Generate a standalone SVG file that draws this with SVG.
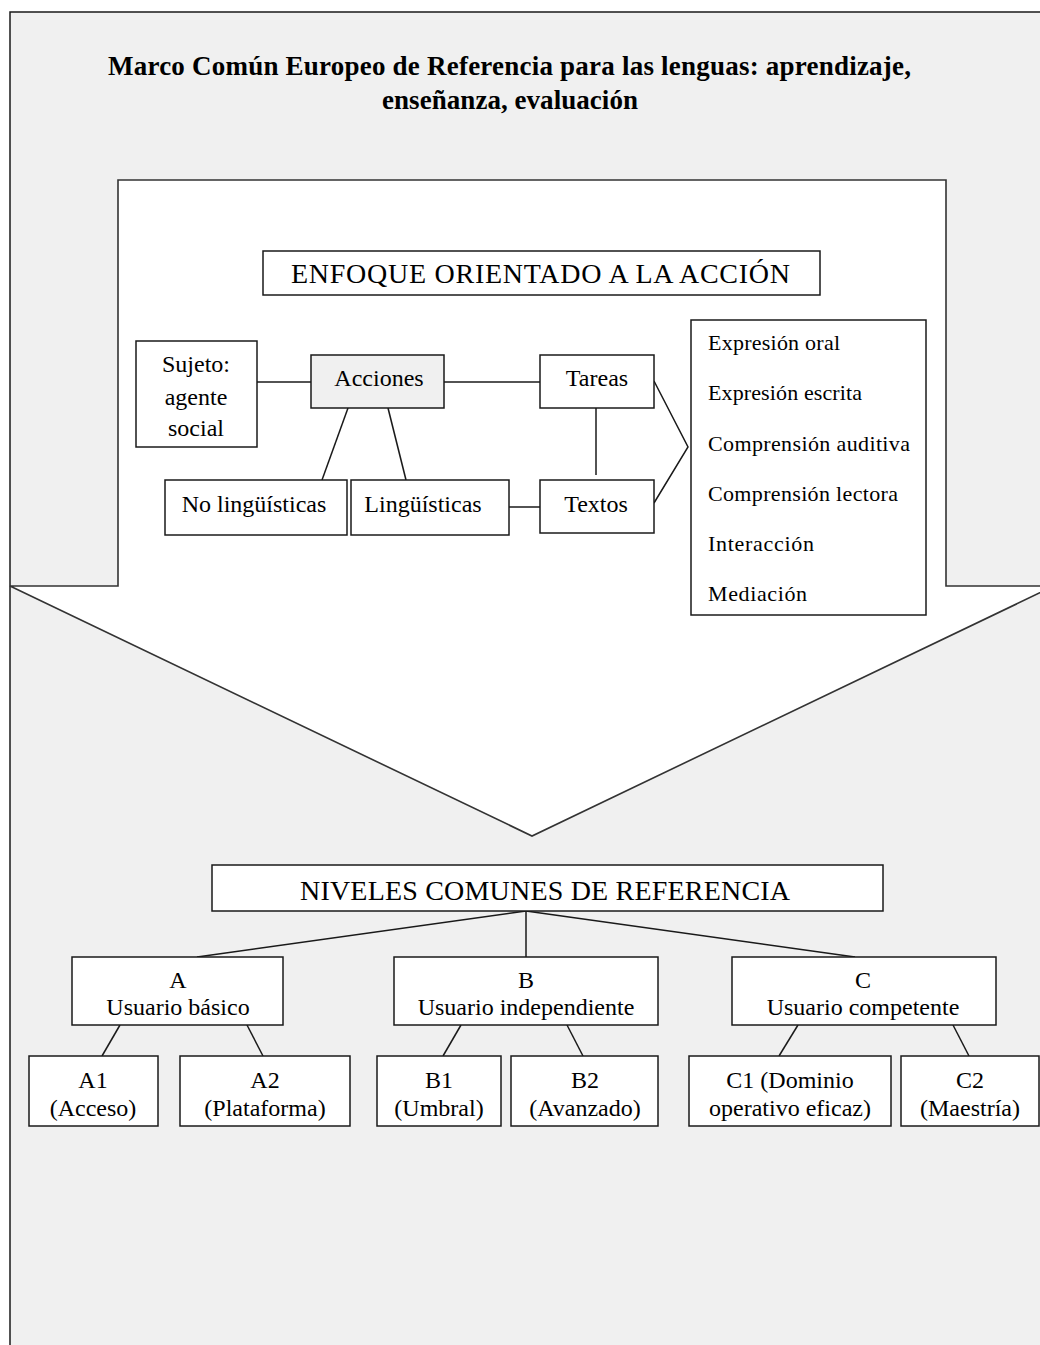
<svg xmlns="http://www.w3.org/2000/svg" width="1040" height="1345" viewBox="0 0 1040 1345">
<style>
.bx{fill:#fff;stroke:#1a1a1a;stroke-width:1.5}
.gr{fill:#f0f0f0;stroke:#1a1a1a;stroke-width:1.5}
.ln{stroke:#1a1a1a;stroke-width:1.5;fill:none}
.t{font-family:"Liberation Serif","Times New Roman",serif;font-size:24px;fill:#000;text-anchor:middle}
.h{font-family:"Liberation Serif","Times New Roman",serif;font-size:28px;fill:#000}
.ti{font-family:"Liberation Serif","Times New Roman",serif;font-size:27px;font-weight:bold;fill:#000}
.li{font-family:"Liberation Serif","Times New Roman",serif;font-size:22px;fill:#000}
</style>
<rect x="0" y="0" width="1040" height="1345" fill="#fff"/>
<rect x="10" y="12" width="1032" height="1335" fill="#f0f0f0"/>
<path class="ln" d="M10,1345 V12 H1040"/>
<g id="title">
<text class="ti" x="108" y="75" textLength="803">Marco Común Europeo de Referencia para las lenguas: aprendizaje,</text>
<text class="ti" x="382" y="109" textLength="256">enseñanza, evaluación</text>
</g>
<g id="big-arrow">
<polygon points="118,180 946,180 946,586 1054,586 532,836 10,586 118,586" fill="#fff" stroke="#333" stroke-width="1.6"/>
</g>
<g id="connectors">
<line class="ln" x1="257" y1="382" x2="311" y2="382"/>
<line class="ln" x1="444" y1="382" x2="540" y2="382"/>
<line class="ln" x1="348" y1="408" x2="322" y2="480"/>
<line class="ln" x1="388" y1="408" x2="406" y2="480"/>
<line class="ln" x1="596" y1="408" x2="596" y2="475"/>
<line class="ln" x1="509" y1="507" x2="540" y2="507"/>
<polyline class="ln" points="654,381 688,447 654,503"/>
<line class="ln" x1="526" y1="911" x2="197" y2="957"/>
<line class="ln" x1="526" y1="911" x2="526" y2="957"/>
<line class="ln" x1="526" y1="911" x2="855" y2="957"/>
<line class="ln" x1="120" y1="1025" x2="102" y2="1056"/>
<line class="ln" x1="247" y1="1025" x2="263" y2="1056"/>
<line class="ln" x1="461" y1="1025" x2="443" y2="1056"/>
<line class="ln" x1="567" y1="1025" x2="583" y2="1056"/>
<line class="ln" x1="798" y1="1025" x2="779" y2="1056"/>
<line class="ln" x1="953" y1="1025" x2="969" y2="1056"/>
</g>
<g id="enfoque">
<rect class="bx" x="263" y="251" width="557" height="44"/>
<text class="h" x="291" y="283" textLength="499">ENFOQUE ORIENTADO A LA ACCIÓN</text>
</g>
<g id="sujeto">
<rect class="bx" x="136" y="341" width="121" height="106"/>
<text class="t" x="196" y="372">Sujeto:</text>
<text class="t" x="196" y="405">agente</text>
<text class="t" x="196" y="436">social</text>
</g>
<g id="acciones">
<rect class="gr" x="311" y="355" width="133" height="53"/>
<text class="t" x="379" y="386">Acciones</text>
</g>
<g id="tareas">
<rect class="bx" x="540" y="355" width="114" height="53"/>
<text class="t" x="597" y="386">Tareas</text>
</g>
<g id="no-linguisticas">
<rect class="bx" x="165" y="480" width="182" height="55"/>
<text class="t" x="254" y="512">No lingüísticas</text>
</g>
<g id="linguisticas">
<rect class="bx" x="351" y="480" width="158" height="55"/>
<text class="t" x="423" y="512">Lingüísticas</text>
</g>
<g id="textos">
<rect class="bx" x="540" y="480" width="114" height="53"/>
<text class="t" x="596" y="512">Textos</text>
</g>
<g id="actividades">
<rect class="bx" x="691" y="320" width="235" height="295"/>
<text class="li" x="708" y="350" textLength="132">Expresión oral</text>
<text class="li" x="708" y="400" textLength="154">Expresión escrita</text>
<text class="li" x="708" y="451" textLength="202">Comprensión auditiva</text>
<text class="li" x="708" y="501" textLength="190">Comprensión lectora</text>
<text class="li" x="708" y="551" textLength="106">Interacción</text>
<text class="li" x="708" y="601" textLength="99">Mediación</text>
</g>
<g id="niveles">
<rect class="bx" x="212" y="865" width="671" height="46"/>
<text class="h" x="300" y="900" textLength="490">NIVELES COMUNES DE REFERENCIA</text>
</g>
<g id="nivel-a">
<rect class="bx" x="72" y="957" width="211" height="68"/>
<text class="t" x="178" y="988">A</text>
<text class="t" x="178" y="1015">Usuario básico</text>
</g>
<g id="nivel-b">
<rect class="bx" x="394" y="957" width="264" height="68"/>
<text class="t" x="526" y="988">B</text>
<text class="t" x="526" y="1015">Usuario independiente</text>
</g>
<g id="nivel-c">
<rect class="bx" x="732" y="957" width="264" height="68"/>
<text class="t" x="863" y="988">C</text>
<text class="t" x="863" y="1015">Usuario competente</text>
</g>
<g id="a1">
<rect class="bx" x="29" y="1056" width="129" height="70"/>
<text class="t" x="93" y="1088">A1</text>
<text class="t" x="93" y="1116">(Acceso)</text>
</g>
<g id="a2">
<rect class="bx" x="180" y="1056" width="170" height="70"/>
<text class="t" x="265" y="1088">A2</text>
<text class="t" x="265" y="1116">(Plataforma)</text>
</g>
<g id="b1">
<rect class="bx" x="377" y="1056" width="124" height="70"/>
<text class="t" x="439" y="1088">B1</text>
<text class="t" x="439" y="1116">(Umbral)</text>
</g>
<g id="b2">
<rect class="bx" x="511" y="1056" width="147" height="70"/>
<text class="t" x="585" y="1088">B2</text>
<text class="t" x="585" y="1116">(Avanzado)</text>
</g>
<g id="c1">
<rect class="bx" x="689" y="1056" width="202" height="70"/>
<text class="t" x="790" y="1088">C1 (Dominio</text>
<text class="t" x="790" y="1116">operativo eficaz)</text>
</g>
<g id="c2">
<rect class="bx" x="901" y="1056" width="138" height="70"/>
<text class="t" x="970" y="1088">C2</text>
<text class="t" x="970" y="1116">(Maestría)</text>
</g>
</svg>
